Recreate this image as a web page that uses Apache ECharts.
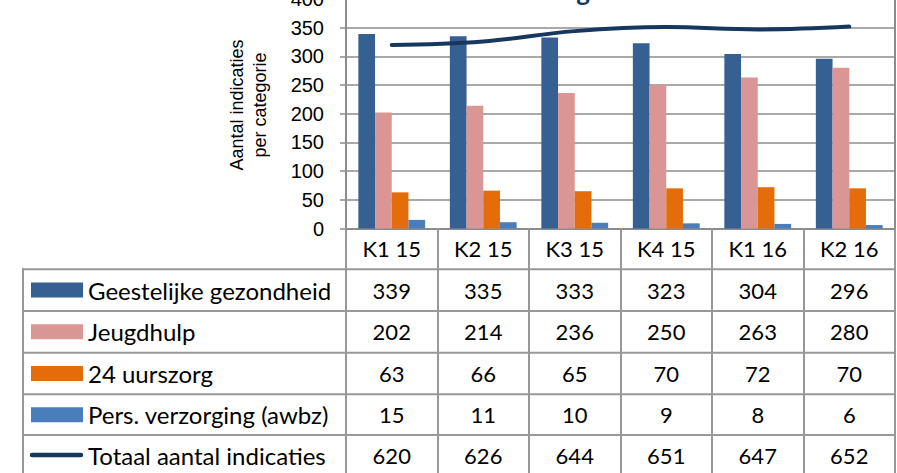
<!DOCTYPE html>
<html>
<head>
<meta charset="utf-8">
<script src="https://cdn.jsdelivr.net/npm/echarts@6/dist/echarts.min.js"></script>
<style>html,body{margin:0;padding:0;background:#fff}#c{width:897px;height:473px}</style>
</head>
<body>
<div id="c"></div>
<script>
const categories = ['K1 15','K2 15','K3 15','K4 15','K1 16','K2 16'];
const geestelijke = [339,335,333,323,304,296];
const jeugdhulp = [202,214,236,250,263,280];
const uurszorg = [63,66,65,70,72,70];
const persVerzorging = [15,11,10,9,8,6];
const totaal = [620,626,644,651,647,652];
const seriesNames = ['Geestelijke gezondheid','Jeugdhulp','24 uurszorg','Pers. verzorging (awbz)','Totaal aantal indicaties'];
const colors = ['#376092','#DA9694','#E46C0A','#4A7EBB','#17375E'];
const rowsData = [geestelijke, jeugdhulp, uurszorg, persVerzorging, totaal];

const chart = echarts.init(document.getElementById('c'), null, {renderer:'svg'});
const gridCol = '#8c8c8c';
const tableCol = '#989898';
const tFont = 'Lato';

const option = {
  animation:false,
  grid:{left:346, right:2, top:-1, bottom:244.5, containLabel:false, outerBoundsMode:'none'},
  xAxis:{
    type:'category', data:categories,
    axisLine:{show:true, lineStyle:{color:gridCol, width:2}},
    axisTick:{show:true, alignWithLabel:false, length:246, lineStyle:{color:tableCol, width:2}},
    axisLabel:{color:'#000', fontFamily:tFont, fontSize:22, margin:9},
    splitLine:{show:false}
  },
  yAxis:[{
    type:'value', min:0, max:400, interval:50,
    axisLine:{show:true, lineStyle:{color:gridCol, width:2}},
    axisTick:{show:true, length:6, lineStyle:{color:gridCol, width:1.5}},
    axisLabel:{color:'#000', fontFamily:'Liberation Sans', fontSize:20, margin:22},
    splitLine:{show:true, lineStyle:{color:gridCol, width:1.5}}
  },{
    type:'value', min:300, max:700, interval:100, position:'right',
    axisLine:{show:true, lineStyle:{color:gridCol, width:2}},
    axisTick:{show:false}, axisLabel:{show:false}, splitLine:{show:false}
  }],
  series:[
    {name:seriesNames[0], type:'bar', data:geestelijke, itemStyle:{color:colors[0]}, barGap:'0%', barCategoryGap:'27%'},
    {name:seriesNames[1], type:'bar', data:jeugdhulp, itemStyle:{color:colors[1]}},
    {name:seriesNames[2], type:'bar', data:uurszorg, itemStyle:{color:colors[2]}},
    {name:seriesNames[3], type:'bar', data:persVerzorging, itemStyle:{color:colors[3]}},
    {name:seriesNames[4], type:'line', yAxisIndex:1, data:totaal, smooth:0.4, symbol:'none',
     lineStyle:{color:colors[4], width:4, cap:'round'}, z:5}
  ]
};
chart.setOption(option);

// build data table
const rowLines = [269.3, 311, 352.7, 394.3, 435];
const rowCenters = [290, 331.8, 373.5, 414.7, 455];
const g = [];
rowLines.forEach(y => g.push({type:'line', shape:{x1:22, y1:y, x2:895, y2:y}, style:{stroke:tableCol, lineWidth:2}}));
g.push({type:'line', shape:{x1:23, y1:268.3, x2:23, y2:473}, style:{stroke:tableCol, lineWidth:2}});
rowsData.forEach((arr, r) => {
  const cy = rowCenters[r];
  if (r < 4) {
    g.push({type:'rect', shape:{x:31, y:cy-7.5, width:52, height:15}, style:{fill:colors[r]}});
  } else {
    g.push({type:'line', shape:{x1:32, y1:cy, x2:81, y2:cy}, style:{stroke:colors[r], lineWidth:4.5, lineCap:'round'}});
  }
  g.push({type:'text', x:88, y:cy, style:{text:seriesNames[r], fill:'#000', font:'24px ' + tFont, textAlign:'left', textVerticalAlign:'middle'}});
  arr.forEach((v, i) => {
    const cx = chart.convertToPixel({xAxisIndex:0}, i);
    g.push({type:'text', x:cx, y:cy, style:{text:String(v), fill:'#000', font:'22px ' + tFont, textAlign:'center', textVerticalAlign:'middle'}});
  });
});
// axis name
g.push({type:'text', x:248, y:105, rotation:Math.PI/2, style:{text:'Aantal indicaties\nper categorie', fill:'#000', font:'18px Liberation Sans', textAlign:'center', textVerticalAlign:'middle', lineHeight:23}});
// clipped title remnant
g.push({type:'text', x:583, y:-9, style:{text:'g', fill:'#17375E', font:'bold 26px ' + tFont, textAlign:'center', textVerticalAlign:'middle'}});
chart.setOption({graphic:g});
</script>
</body>
</html>
